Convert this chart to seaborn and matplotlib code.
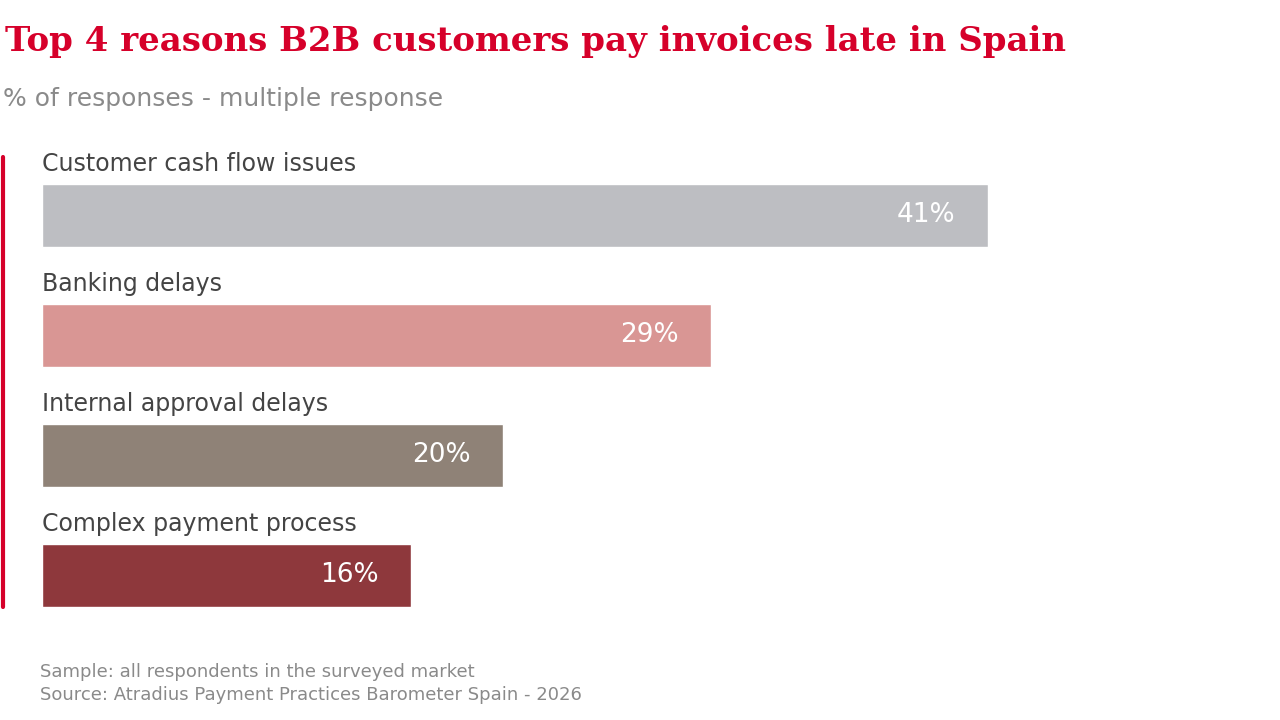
import matplotlib
matplotlib.use("Agg")
import matplotlib.pyplot as plt
import seaborn as sns
import pandas as pd

categories = ["Customer cash flow issues", "Banking delays", "Internal approval delays", "Complex payment process"]
values = [41, 29, 20, 16]
colors = ["#BDBEC2", "#D99694", "#8F8277", "#8E383C"]

sns.set_theme(style="white")
plt.rcParams['font.family'] = ['DejaVu Sans']
df = pd.DataFrame({"cat": categories, "val": values})

fig = plt.figure(figsize=(12.8, 7.2), dpi=100)
ax = fig.add_axes([42/1280, 1-607/720, (988-42)/1280, 423/720])
sns.barplot(data=df, x="val", y="cat", hue="cat", palette=colors, width=0.525,
            legend=False, ax=ax, saturation=1)
ax.set_xlim(0, 41)
ax.set_ylim(3.2625, -0.2625)
ax.axis("off")
for i, (c, v) in enumerate(zip(categories, values)):
    ax.text(0, i - 0.2625 - 0.17, c, fontsize=17, color="#444444", va="center", ha="left")
    ax.text(v - 1.4, i, f"{v}%", fontsize=19, color="white", va="center", ha="right")

fig.text(5/1280, 1-42/720, "Top 4 reasons B2B customers pay invoices late in Spain",
         fontsize=24.5, fontweight="bold", family="DejaVu Serif", color="#D6002A", va="center")
fig.text(3/1280, 1-99/720, "% of responses - multiple response", fontsize=18, color="#8A8A8A", va="center")
fig.text(40/1280, 1-672/720, "Sample: all respondents in the surveyed market", fontsize=13, color="#8A8A8A", va="center")
fig.text(40/1280, 1-695/720, "Source: Atradius Payment Practices Barometer Spain - 2026", fontsize=13, color="#8A8A8A", va="center")
fig.add_artist(plt.Line2D([2.5/1280, 2.5/1280], [1-157/720, 1-607/720], color="#D6002A", lw=3))
fig.savefig("out.png", dpi=100)
